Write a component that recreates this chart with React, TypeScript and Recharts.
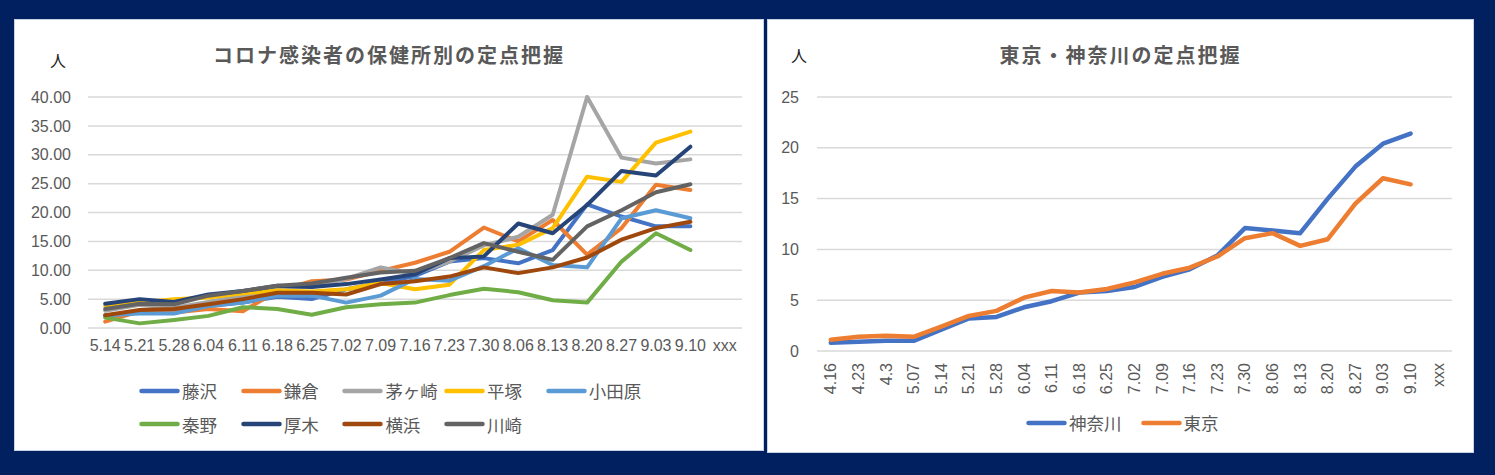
import React from 'react';
import { LineChart, Line, XAxis, YAxis, CartesianGrid, Legend } from 'recharts';

// ---------- Left chart data ----------
const leftCategories = ['5.14','5.21','5.28','6.04','6.11','6.18','6.25','7.02','7.09','7.16','7.23','7.30','8.06','8.13','8.20','8.27','9.03','9.10','xxx'];
const fujisawa = [2.1, 2.7, 2.7, 3.8, 4.4, 5.4, 5.0, 6.7, 7.8, 9.0, 11.5, 12.1, 11.2, 13.5, 21.4, 19.3, 17.6, 17.6];
const kamakura = [1.1, 2.9, 2.7, 3.3, 2.9, 6.4, 8.1, 8.4, 9.9, 11.3, 13.2, 17.4, 15.0, 18.7, 12.7, 17.3, 24.8, 23.9];
const chigasaki = [3.0, 4.0, 3.5, 4.5, 5.6, 6.8, 7.2, 8.5, 10.5, 9.4, 11.5, 14.3, 15.8, 19.6, 40.0, 29.5, 28.5, 29.2];
const hiratsuka = [3.8, 4.4, 5.0, 5.3, 6.0, 6.5, 6.3, 6.7, 7.8, 6.7, 7.5, 13.5, 14.4, 17.3, 26.2, 25.3, 32.1, 34.0];
const odawara = [2.2, 2.5, 2.5, 3.8, 4.4, 5.6, 5.6, 4.4, 5.6, 8.5, 8.2, 10.7, 13.8, 10.9, 10.5, 19.0, 20.4, 19.0];
const hadano = [1.8, 0.8, 1.4, 2.1, 3.6, 3.3, 2.3, 3.6, 4.1, 4.4, 5.7, 6.8, 6.2, 4.8, 4.4, 11.5, 16.4, 13.5];
const atsugi = [4.2, 5.0, 4.5, 5.8, 6.4, 7.3, 7.1, 7.6, 8.4, 9.3, 12.1, 12.4, 18.1, 16.4, 21.3, 27.2, 26.4, 31.4];
const yokohama = [2.2, 3.1, 3.3, 4.1, 5.0, 6.1, 6.1, 5.8, 7.6, 8.1, 8.9, 10.5, 9.5, 10.5, 12.2, 15.3, 17.3, 18.4];
const kawasaki = [3.3, 4.2, 4.1, 5.6, 6.4, 7.3, 7.7, 8.7, 9.6, 9.9, 12.1, 14.7, 13.2, 11.8, 17.6, 20.4, 23.5, 24.9];
const leftTicks = [0, 5, 10, 15, 20, 25, 30, 35, 40];

// ---------- Right chart data ----------
const rightCategories = ['4.16','4.23','4.3','5.07','5.14','5.21','5.28','6.04','6.11','6.18','6.25','7.02','7.09','7.16','7.23','7.30','8.06','8.13','8.20','8.27','9.03','9.10','xxx'];
const kanagawa = [0.82, 0.92, 1.0, 1.0, 2.1, 3.2, 3.35, 4.3, 4.9, 5.75, 5.9, 6.3, 7.3, 8.05, 9.4, 12.1, 11.85, 11.6, 15.0, 18.15, 20.4, 21.4];
const tokyo = [1.1, 1.4, 1.5, 1.4, 2.4, 3.45, 3.95, 5.25, 5.9, 5.75, 6.1, 6.75, 7.6, 8.2, 9.3, 11.1, 11.6, 10.35, 11.0, 14.5, 17.0, 16.4];
const rightTicks = [0, 5, 10, 15, 20, 25];

const leftSeries = [
  { name: '藤沢', values: fujisawa, color: '#4472C4' },
  { name: '鎌倉', values: kamakura, color: '#ED7D31' },
  { name: '茅ヶ崎', values: chigasaki, color: '#A5A5A5' },
  { name: '平塚', values: hiratsuka, color: '#FFC000' },
  { name: '小田原', values: odawara, color: '#5B9BD5' },
  { name: '秦野', values: hadano, color: '#70AD47' },
  { name: '厚木', values: atsugi, color: '#264478' },
  { name: '横浜', values: yokohama, color: '#9E480E' },
  { name: '川崎', values: kawasaki, color: '#636363' },
];
const rightSeries = [
  { name: '神奈川', values: kanagawa, color: '#4472C4' },
  { name: '東京', values: tokyo, color: '#ED7D31' },
];

const leftData = leftCategories.map((c, i) => {
  const row: any = { cat: c };
  leftSeries.forEach(s => { row[s.name] = s.values[i] ?? null; });
  return row;
});
const rightData = rightCategories.map((c, i) => {
  const row: any = { cat: c };
  rightSeries.forEach(s => { row[s.name] = s.values[i] ?? null; });
  return row;
});

const NAVY = '#002060';
const TXT = '#595959';
const NUMFONT = '"Liberation Sans", Arial, sans-serif';
const JPFONT = '"Noto Sans CJK JP", "Noto Sans", sans-serif';

const Swatch = ({ color }: { color: string }) => (
  <svg width={41} height={8} style={{ display: 'block', flex: 'none' }}>
    <line x1={2.5} y1={4} x2={38.5} y2={4} stroke={color} strokeWidth={4.5} strokeLinecap="round" />
  </svg>
);

const LeftLegend = () => (
  <div style={{ display: 'grid', gridTemplateColumns: 'repeat(5, 101.7px)', gridAutoRows: '33.5px' }}>
    {leftSeries.map(s => (
      <div key={s.name} style={{ display: 'flex', alignItems: 'center', whiteSpace: 'nowrap' }}>
        <Swatch color={s.color} />
        <span style={{ marginLeft: 2, fontFamily: JPFONT, fontSize: 17.5, color: TXT, lineHeight: 1 }}>{s.name}</span>
      </div>
    ))}
  </div>
);

const RightLegend = () => (
  <div style={{ display: 'flex', alignItems: 'center', gap: 19, height: 18 }}>
    {rightSeries.map(s => (
      <div key={s.name} style={{ display: 'flex', alignItems: 'center', whiteSpace: 'nowrap' }}>
        <Swatch color={s.color} />
        <span style={{ marginLeft: 2, fontFamily: JPFONT, fontSize: 17.5, color: TXT, lineHeight: 1 }}>{s.name}</span>
      </div>
    ))}
  </div>
);

const RotTick = (props: any) => {
  const { x, y, payload } = props;
  return (
    <text
      x={0}
      y={0}
      transform={`translate(${x},${y}) rotate(-90)`}
      textAnchor="end"
      dominantBaseline="central"
      fill={TXT}
      fontSize={16}
      fontFamily={NUMFONT}
    >
      {payload.value}
    </text>
  );
};

const panelStyle: React.CSSProperties = {
  position: 'absolute',
  background: '#fff',
  border: '1px solid #c9d2e3',
  boxSizing: 'content-box',
};

const titleStyle: React.CSSProperties = {
  position: 'absolute',
  left: 0,
  right: 0,
  textAlign: 'center',
  fontFamily: JPFONT,
  fontWeight: 700,
  fontSize: 20,
  letterSpacing: 2,
  color: TXT,
  lineHeight: '24px',
};

const unitStyle: React.CSSProperties = {
  position: 'absolute',
  fontFamily: JPFONT,
  fontSize: 16,
  color: '#222',
  lineHeight: '20px',
};

export default function App() {
  return (
    <div style={{ position: 'fixed', left: 0, top: 0, width: 1495, height: 475, background: NAVY, overflow: 'hidden' }}>
      {/* Left panel */}
      <div style={{ ...panelStyle, left: 14, top: 19, width: 748, height: 430 }}>
        <div style={{ ...titleStyle, top: 23 }}>コロナ感染者の保健所別の定点把握</div>
        <div style={{ ...unitStyle, left: 35, top: 30 }}>人</div>
        <div style={{ position: 'absolute', left: 1, top: 0 }}>
          <LineChart width={746} height={429} data={leftData} margin={{ top: 77, right: 20, bottom: 91, left: 0 }}>
            <CartesianGrid horizontal vertical={false} stroke="#d9d9d9" strokeWidth={1.5} />
            <XAxis
              dataKey="cat"
              interval={0}
              padding={{ left: 17.2, right: 17.2 }}
              axisLine={false}
              tickLine={false}
              tickSize={0}
              tickMargin={12}
              height={30}
              tick={{ fill: TXT, fontSize: 16, fontFamily: NUMFONT }}
            />
            <YAxis
              domain={[0, 40]}
              ticks={leftTicks}
              interval={0}
              width={72}
              axisLine={false}
              tickLine={false}
              tickSize={0}
              tickMargin={17}
              tickFormatter={(v: number) => v.toFixed(2)}
              tick={{ fill: TXT, fontSize: 16, fontFamily: NUMFONT }}
            />
            <Legend
              verticalAlign="middle"
              align="center"
              content={() => <LeftLegend />}
              wrapperStyle={{ position: 'absolute', left: 123, top: 354, width: 520 }}
            />
            {leftSeries.map(s => (
              <Line
                key={s.name}
                type="linear"
                dataKey={s.name}
                stroke={s.color}
                strokeWidth={4}
                strokeLinejoin="round"
                strokeLinecap="round"
                dot={false}
                activeDot={false}
                isAnimationActive={false}
              />
            ))}
          </LineChart>
        </div>
      </div>

      {/* Right panel */}
      <div style={{ ...panelStyle, left: 767, top: 19, width: 705, height: 432 }}>
        <div style={{ ...titleStyle, top: 23 }}>東京・神奈川の定点把握</div>
        <div style={{ ...unitStyle, left: 23, top: 25 }}>人</div>
        <div style={{ position: 'absolute', left: 1, top: 0 }}>
          <LineChart width={703} height={431} data={rightData} margin={{ top: 77, right: 20, bottom: 60, left: 0 }}>
            <CartesianGrid horizontal vertical={false} stroke="#d9d9d9" strokeWidth={1.5} />
            <XAxis
              dataKey="cat"
              interval={0}
              padding={{ left: 13.8, right: 13.8 }}
              axisLine={false}
              tickLine={false}
              tickSize={0}
              tickMargin={12}
              height={40}
              tick={<RotTick />}
            />
            <YAxis
              domain={[0, 25]}
              ticks={rightTicks}
              interval={0}
              width={48}
              axisLine={false}
              tickLine={false}
              tickSize={0}
              tickMargin={18}
              tick={{ fill: TXT, fontSize: 16, fontFamily: NUMFONT }}
            />
            <Legend
              verticalAlign="middle"
              align="center"
              content={() => <RightLegend />}
              wrapperStyle={{ position: 'absolute', left: 257, top: 394, width: 300 }}
            />
            {rightSeries.map(s => (
              <Line
                key={s.name}
                type="linear"
                dataKey={s.name}
                stroke={s.color}
                strokeWidth={4.5}
                strokeLinejoin="round"
                strokeLinecap="round"
                dot={false}
                activeDot={false}
                isAnimationActive={false}
              />
            ))}
          </LineChart>
        </div>
      </div>
    </div>
  );
}
